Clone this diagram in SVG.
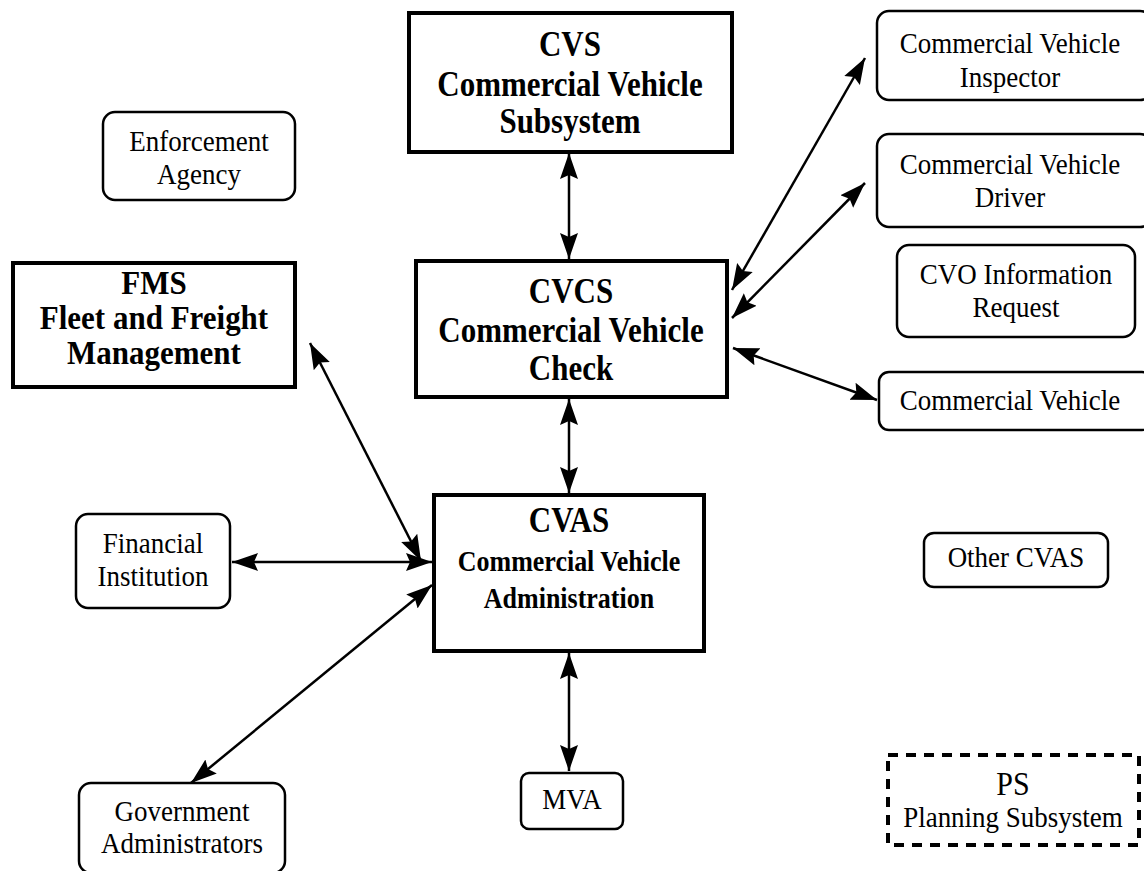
<svg xmlns="http://www.w3.org/2000/svg" width="1144" height="871" viewBox="0 0 1144 871">
<style>
.bold{fill:#fff;stroke:#000;stroke-width:4}
.ext{fill:#fff;stroke:#000;stroke-width:2.5}
.dash{fill:#fff;stroke:#000;stroke-width:4;stroke-dasharray:10 8}
.tb{font-family:"Liberation Serif",serif;font-weight:bold;font-size:31px;text-anchor:middle;fill:#000}
.tr{font-family:"Liberation Serif",serif;font-size:27px;text-anchor:middle;fill:#000}
.conn line{stroke:#000;stroke-width:2.5;marker-start:url(#ah);marker-end:url(#ah)}
</style>
<defs>
<marker id="ah" markerUnits="userSpaceOnUse" markerWidth="28" markerHeight="20" refX="26" refY="10" orient="auto-start-reverse">
<path d="M0,1 L26,10 L0,19 L4,10 Z" fill="#000"/>
</marker>
</defs>
<rect width="1144" height="871" fill="#fff"/>

<g id="cvs">
<rect class="bold" x="409" y="13" width="323" height="139"/>
<text class="tb" transform="scale(1,1.15)"><tspan x="570" y="48.70">CVS</tspan><tspan x="570" y="83.48">Commercial Vehicle</tspan><tspan x="570" y="115.65">Subsystem</tspan></text>
</g>
<g id="cvcs">
<rect class="bold" x="416" y="261" width="311" height="136"/>
<text class="tb" transform="scale(1,1.15)"><tspan x="571" y="263.48">CVCS</tspan><tspan x="571" y="297.39">Commercial Vehicle</tspan><tspan x="571" y="330.43">Check</tspan></text>
</g>
<g id="cvas">
<rect class="bold" x="434" y="495" width="270" height="156"/>
<text class="tb" transform="scale(1,1.15)"><tspan x="569" y="462.61">CVAS</tspan><tspan x="569" y="496.52" style="font-size:26px">Commercial Vehicle</tspan><tspan x="569" y="528.70" style="font-size:26px">Administration</tspan></text>
</g>
<g id="fms">
<rect class="bold" x="13" y="263" width="282" height="124"/>
<text class="tb" transform="scale(1,1.07)"><tspan x="154" y="274.77">FMS</tspan><tspan x="154" y="307.48">Fleet and Freight</tspan><tspan x="154" y="340.19">Management</tspan></text>
</g>
<g id="enforcement">
<rect class="ext" x="103" y="112" width="192" height="88" rx="12"/>
<text class="tr" transform="scale(1,1.12)"><tspan x="199" y="134.82">Enforcement</tspan><tspan x="199" y="164.29">Agency</tspan></text>
</g>
<g id="financial">
<rect class="ext" x="76" y="514" width="154" height="94" rx="12"/>
<text class="tr" transform="scale(1,1.12)"><tspan x="153" y="493.75">Financial</tspan><tspan x="153" y="523.21">Institution</tspan></text>
</g>
<g id="government">
<rect class="ext" x="79" y="783" width="206" height="90" rx="12"/>
<text class="tr" transform="scale(1,1.12)"><tspan x="182" y="733.04">Government</tspan><tspan x="182" y="761.61">Administrators</tspan></text>
</g>
<g id="mva">
<rect class="ext" x="521" y="773" width="102" height="56" rx="8"/>
<text class="tr" transform="scale(1,1.12)" x="572" y="722.32">MVA</text>
</g>
<g id="other-cvas">
<rect class="ext" x="924" y="533" width="184" height="54" rx="10"/>
<text class="tr" transform="scale(1,1.12)" x="1016" y="506.25">Other CVAS</text>
</g>
<g id="ps">
<rect class="dash" x="888" y="755" width="251" height="90"/>
<text class="tr" transform="scale(1,1.12)"><tspan x="1013" y="709.82" style="font-size:30px">PS</tspan><tspan x="1013" y="738.39">Planning Subsystem</tspan></text>
</g>
<g id="inspector">
<rect class="ext" x="877" y="11" width="275" height="89" rx="12"/>
<text class="tr" transform="scale(1,1.12)"><tspan x="1010" y="47.32">Commercial Vehicle</tspan><tspan x="1010" y="77.68">Inspector</tspan></text>
</g>
<g id="driver">
<rect class="ext" x="877" y="134" width="275" height="93" rx="12"/>
<text class="tr" transform="scale(1,1.12)"><tspan x="1010" y="155.36">Commercial Vehicle</tspan><tspan x="1010" y="184.82">Driver</tspan></text>
</g>
<g id="cvo-request">
<rect class="ext" x="897" y="245" width="238" height="92" rx="12"/>
<text class="tr" transform="scale(1,1.12)"><tspan x="1016" y="253.57">CVO Information</tspan><tspan x="1016" y="283.04">Request</tspan></text>
</g>
<g id="commercial-vehicle">
<rect class="ext" x="879" y="372" width="273" height="58" rx="10"/>
<text class="tr" transform="scale(1,1.12)" x="1010" y="366.07">Commercial Vehicle</text>
</g>

<g id="connectors" class="conn">
<line x1="569" y1="153" x2="569" y2="259"/>
<line x1="569" y1="399" x2="569" y2="493"/>
<line x1="569" y1="653" x2="569" y2="771"/>
<line x1="865" y1="58" x2="732" y2="290"/>
<line x1="865" y1="183" x2="732" y2="318"/>
<line x1="733" y1="348" x2="877" y2="400"/>
<line x1="310" y1="343" x2="421" y2="561"/>
<line x1="232" y1="562" x2="432" y2="562"/>
<line x1="191" y1="783" x2="432" y2="585"/>
</g>
</svg>
